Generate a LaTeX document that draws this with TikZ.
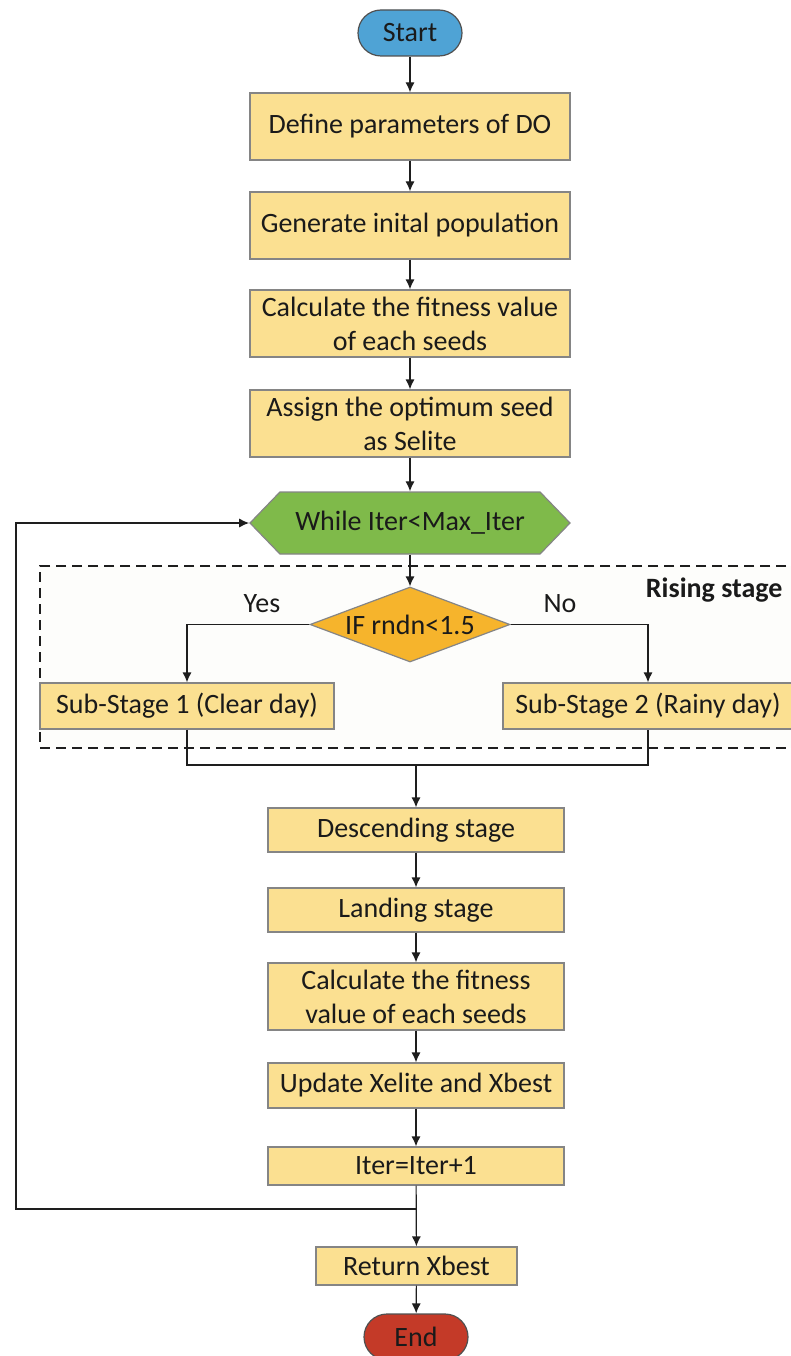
\documentclass[tikz,border=0pt]{standalone}
\usepackage{fontspec}
\setmainfont{Carlito}
\usetikzlibrary{arrows.meta,shapes.geometric,shapes.symbols}

\definecolor{startblue}{HTML}{4FA3D5}
\definecolor{endred}{HTML}{C43A28}
\definecolor{boxfill}{HTML}{FBE091}
\definecolor{hexgreen}{HTML}{7FBA4A}
\definecolor{condorange}{HTML}{F6B42C}
\definecolor{boxline}{HTML}{858585}
\definecolor{termline}{HTML}{505050}
\definecolor{linecol}{HTML}{1E1E1E}
\definecolor{textcol}{HTML}{1A1A1A}
\definecolor{regionfill}{HTML}{FDFDFB}

\begin{document}
\begin{tikzpicture}[x=1pt,y=-1pt,
  every node/.style={font=\fontsize{28}{34}\selectfont, text=textcol},
  proc/.style={rectangle, draw=boxline, fill=boxfill, line width=1.2pt,
    inner sep=0pt, align=center},
  term/.style={rectangle, rounded corners=23pt, draw=termline, line width=1.2pt,
    minimum width=104pt, minimum height=46pt, inner sep=0pt},
  link/.style={line width=1.2pt, draw=linecol, -{Latex[length=10pt,width=9pt]}},
  plain/.style={line width=1.2pt, draw=linecol},
  region/.style={rectangle, draw=linecol, fill=regionfill, line width=1.2pt,
    dash pattern=on 10pt off 6pt, inner sep=0pt}]

\useasboundingbox (0,0) rectangle (790,1356);

% dashed frame of the rising stage
\node[region, minimum width=770pt, minimum height=182pt] (rising) at (425,657) {};
\node[anchor=east, font=\fontsize{28}{34}\selectfont\bfseries] (risinglbl) at (786,590) {Rising stage};

% initialisation column
\node[term, fill=startblue] (start) at (410,33) {Start};
\node[proc, minimum width=320pt, minimum height=67pt] (define) at (410,126.5) {Define parameters of DO};
\node[proc, minimum width=320pt, minimum height=67pt] (gen) at (410,225.5) {Generate inital population};
\node[proc, minimum width=320pt, minimum height=67pt] (calcA) at (410,323.5) {Calculate the fitness value\\of each seeds};
\node[proc, minimum width=320pt, minimum height=67pt] (assign) at (410,423.5) {Assign the optimum seed\\as Selite};

% loop header
\node[signal, signal to=west and east, signal pointer angle=92,
  draw=boxline, fill=hexgreen, line width=1.2pt, inner sep=0pt,
  minimum width=320pt, minimum height=62pt] (loop) at (410,523) {};
\node (looptxt) at (loop.center) {While Iter<Max\_Iter};

% branching
\node[diamond, aspect=2.67, draw=boxline, fill=condorange, line width=1.2pt, inner sep=0pt,
  minimum width=200pt, minimum height=75pt] (cond) at (410,624.5) {};
\node (condtxt) at (cond.center) {IF rndn<1.5};
\node (yes) at (262,604) {Yes};
\node (no) at (560,604) {No};

\node[proc, minimum width=294pt, minimum height=46pt] (subA) at (187,706) {Sub-Stage 1 (Clear day)};
\node[proc, minimum width=290pt, minimum height=46pt] (subB) at (648,706) {Sub-Stage 2 (Rainy day)};

% remaining stages
\node[proc, minimum width=296pt, minimum height=44pt] (desc) at (416,830) {Descending stage};
\node[proc, minimum width=296pt, minimum height=44pt] (land) at (416,910) {Landing stage};
\node[proc, minimum width=296pt, minimum height=67pt] (calcB) at (416,996.5) {Calculate the fitness\\value of each seeds};
\node[proc, minimum width=296pt, minimum height=45pt] (update) at (416,1085.5) {Update Xelite and Xbest};
\node[proc, minimum width=296pt, minimum height=38pt] (iter) at (416,1166) {Iter=Iter+1};
\node[proc, minimum width=201pt, minimum height=38pt] (ret) at (416.5,1266) {Return Xbest};
\node[term, fill=endred] (end) at (416,1337) {End};

\coordinate (merge) at (416,765);
\coordinate (back) at (416,1209);
\coordinate (far) at (16,1209);

% connectors
\draw[link] (start) -- (define);
\draw[link] (define) -- (gen);
\draw[link] (gen) -- (calcA);
\draw[link] (calcA) -- (assign);
\draw[link] (assign) -- (loop);
\draw[link] (loop) -- (cond);
\draw[link] (cond.west) -| (subA.north);
\draw[link] (cond.east) -| (subB.north);
\draw[plain] (subA.south) -- (subA.south |- merge) -- (subB.south |- merge) -- (subB.south);
\draw[link] (merge) -- (desc);
\draw[link] (desc) -- (land);
\draw[link] (land) -- (calcB);
\draw[link] (calcB) -- (update);
\draw[link] (update) -- (iter);
\draw[link] (iter) -- (ret);
\draw[link] (back) -- (far) |- (loop.west);
\draw[link] (ret) -- (end);
\end{tikzpicture}
\end{document}
